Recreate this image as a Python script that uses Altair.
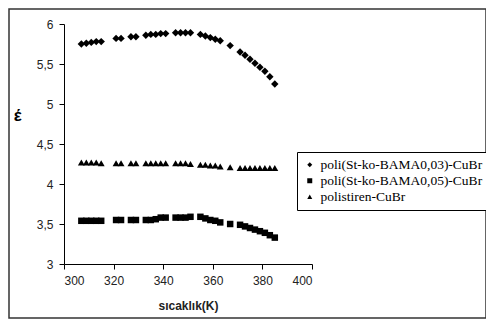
import altair as alt
import pandas as pd

temps = [307, 309, 311, 313, 315, 321, 323, 327, 329, 333, 335, 337, 339, 341,
         345, 347, 349, 351, 355, 357, 359, 361, 363, 367,
         371, 373, 375, 377, 379, 381, 383, 385]

bama03 = [5.75, 5.76, 5.77, 5.78, 5.78, 5.82, 5.82, 5.84, 5.84,
          5.86, 5.87, 5.87, 5.88, 5.88, 5.89, 5.89, 5.89, 5.89,
          5.87, 5.85, 5.83, 5.81, 5.79, 5.73,
          5.65, 5.61, 5.56, 5.51, 5.46, 5.41, 5.34, 5.25]

bama05 = [3.54, 3.54, 3.54, 3.54, 3.54, 3.55, 3.55, 3.55, 3.55,
          3.55, 3.55, 3.56, 3.58, 3.58, 3.58, 3.58, 3.58, 3.59,
          3.59, 3.57, 3.55, 3.54, 3.52, 3.50,
          3.49, 3.47, 3.45, 3.43, 3.41, 3.39, 3.36, 3.33]

polistiren = [4.27, 4.27, 4.27, 4.27, 4.26, 4.26, 4.26, 4.26, 4.26,
              4.26, 4.26, 4.26, 4.26, 4.26, 4.26, 4.26, 4.26, 4.25,
              4.24, 4.24, 4.23, 4.23, 4.22, 4.21,
              4.20, 4.20, 4.20, 4.20, 4.20, 4.20, 4.20, 4.20]

series_names = ["poli(St-ko-BAMA0,03)-CuBr", "poli(St-ko-BAMA0,05)-CuBr", "polistiren-CuBr"]
series_shapes = ["diamond", "square", "triangle-up"]
series_sizes = [55, 42, 48]

x_ticks = [300, 320, 340, 360, 380, 400]
y_ticks = [3, 3.5, 4, 4.5, 5, 5.5, 6]

rows = []
for name, vals in zip(series_names, [bama03, bama05, polistiren]):
    for t, v in zip(temps, vals):
        rows.append({"T": t, "eps": v, "seri": name})
df = pd.DataFrame(rows)

x_enc = alt.X("T:Q",
              scale=alt.Scale(domain=[300, 400], nice=False, zero=False),
              axis=alt.Axis(values=x_ticks, title="sıcaklık(K)", grid=False,
                            domainColor="black", tickColor="black", tickSize=5,
                            labelFont="Liberation Sans", labelFontSize=12, labelColor="#222",
                            labelPadding=6,
                            titleFont="Liberation Sans", titleFontSize=12, titleFontWeight="bold",
                            titleColor="#222", titleY=41, titleBaseline="middle"))
y_enc = alt.Y("eps:Q",
              scale=alt.Scale(domain=[3, 6], nice=False, zero=False),
              axis=alt.Axis(values=y_ticks, title="έ", grid=False,
                            labelExpr="replace(format(datum.value, ''), '.', ',')",
                            domainColor="black", tickColor="black", tickSize=5,
                            labelFont="Liberation Sans", labelFontSize=12, labelColor="#222",
                            labelPadding=6,
                            titleFont="Liberation Sans", titleFontSize=17, titleFontWeight="bold",
                            titleColor="black", titleAngle=0, titleX=-47, titleY=91,
                            titleAlign="center", titleBaseline="middle"))
shape_enc = alt.Shape("seri:N",
                      scale=alt.Scale(domain=series_names, range=series_shapes),
                      legend=alt.Legend(title=None, orient="none", legendX=233, legendY=128,
                                        strokeColor="black", fillColor="white", padding=6,
                                        labelFont="Liberation Serif", labelFontSize=13.5,
                                        labelColor="black", symbolSize=25,
                                        symbolFillColor="black", symbolStrokeWidth=0,
                                        rowPadding=1, labelLimit=300, labelOffset=4))

layers = []
for name, sz in zip(series_names, series_sizes):
    layers.append(
        alt.Chart(df).transform_filter(alt.datum.seri == name)
        .mark_point(filled=True, opacity=1, color="black", size=sz)
        .encode(x=x_enc, y=y_enc, shape=shape_enc)
    )

border = alt.Chart(pd.DataFrame({"a": [0]})).mark_rect(
    fillOpacity=0, stroke="#333", strokeWidth=1.5
).encode(
    x=alt.value(-55), x2=alt.value(422), y=alt.value(-15), y2=alt.value(294)
)

chart = alt.layer(border, *layers).properties(
    width=248, height=240,
    padding={"left": 56, "top": 16, "right": 174, "bottom": 55},
    autosize="none",
).configure_view(stroke=None)

chart.save("out.html", embed_options={"renderer": "svg", "actions": False})
